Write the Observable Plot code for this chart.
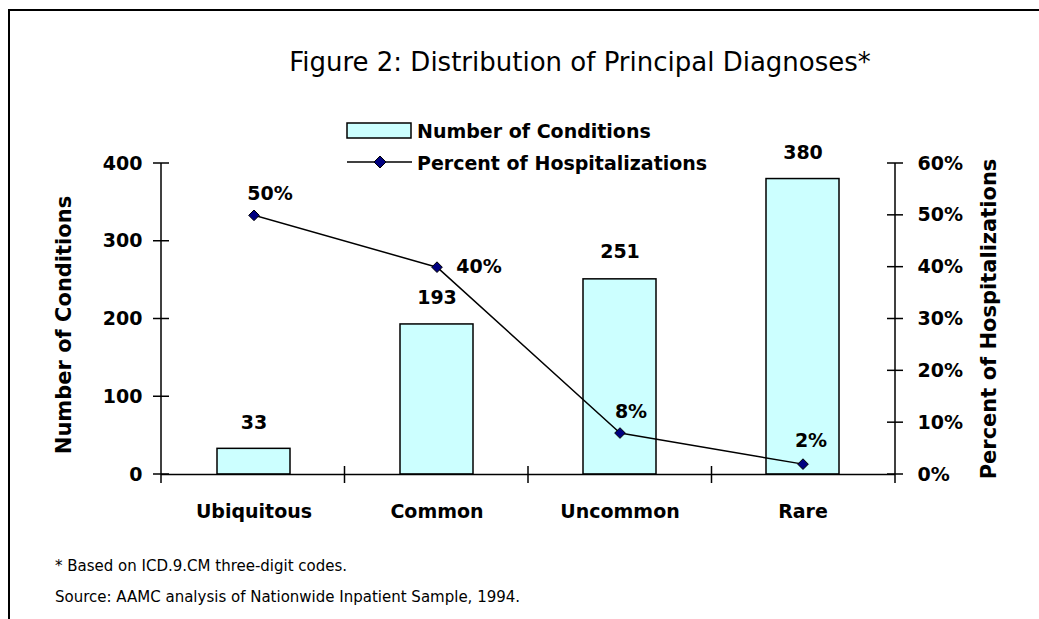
<!DOCTYPE html>
<html>
<head>
<meta charset="utf-8">
<script src="https://cdn.jsdelivr.net/npm/d3@7"></script>
<script src="https://cdn.jsdelivr.net/npm/@observablehq/plot@0.6"></script>
<style>
  html, body { margin: 0; padding: 0; background: #fff; }
  #wrap { position: relative; width: 1039px; height: 619px; overflow: hidden; background: #fff; font-family: "DejaVu Sans", sans-serif; color: #000; }
  #frame { position: absolute; left: 8px; top: 9px; width: 1200px; height: 800px; border: 2px solid #000; box-sizing: border-box; }
  #chart { position: absolute; left: 0; top: 0; }
  .abs { position: absolute; white-space: nowrap; line-height: 1; }
  #title { left: 580px; top: 62px; transform: translate(-50%, -50%); font-size: 26px; }
  .leg { font-size: 19px; font-weight: bold; transform: translateY(-50%); }
  .note { font-size: 15px; left: 55px; transform: translateY(-50%); }
</style>
</head>
<body>
<div id="wrap">
  <div id="frame"></div>
  <div id="chart"></div>
  <div id="title" class="abs">Figure 2: Distribution of Principal Diagnoses*</div>
  <svg class="abs" style="left:0;top:0" width="1039" height="200" id="legsw">
    <rect x="347" y="123" width="64" height="15" fill="#ccffff" stroke="#000" stroke-width="1.5"></rect>
    <line x1="347" x2="412" y1="162" y2="162" stroke="#000" stroke-width="1.5"></line>
    <path d="M380,156 L386,162 L380,168 L374,162 Z" fill="#000080" stroke="#000" stroke-width="1"></path>
  </svg>
  <div class="abs leg" style="left:417px;top:131px">Number of Conditions</div>
  <div class="abs leg" style="left:417px;top:163px">Percent of Hospitalizations</div>
  <div class="abs note" style="top:566px">* Based on ICD.9.CM three-digit codes.</div>
  <div class="abs note" style="top:597px">Source: AAMC analysis of Nationwide Inpatient Sample, 1994.</div>
</div>
<script>
// ---- data ----
const categories = ["Ubiquitous", "Common", "Uncommon", "Rare"];
const conditionCounts = [33, 193, 251, 380];
const hospitalizationPct = [50, 40, 8, 2];
const countTicks = [0, 100, 200, 300, 400];
const pctTicks = [0, 10, 20, 30, 40, 50, 60];

// ---- layout (not data) ----
const countMax = 400, pctMax = 60;
const k = countMax / pctMax; // maps percent onto the count scale
const countLabelDy = [-26, -27, -27, -26];
const pctLabelOffset = [[16, -21], [42, 0], [11, -21], [8, -23]];

const rows = categories.map((c, i) => ({cat: c, count: conditionCounts[i], pct: hospitalizationPct[i]}));

function crossTicks(index, scales, values, dims) {
  const L = dims.marginLeft, R = dims.width - dims.marginRight;
  const T = dims.marginTop, B = dims.height - dims.marginBottom;
  const ys = typeof scales.y === "function" ? scales.y : d3.scaleLinear([0, countMax], [B, T]);
  const bw = (R - L) / categories.length;
  const g = d3.create("svg:g").attr("stroke", "#000").attr("stroke-width", 1.5).attr("fill", "none");
  g.append("line").attr("x1", L).attr("x2", L).attr("y1", T).attr("y2", B + 9);
  g.append("line").attr("x1", R).attr("x2", R).attr("y1", T).attr("y2", B + 9);
  for (const v of countTicks) {
    const y = ys(v);
    g.append("line").attr("x1", L - 8).attr("x2", L + 8).attr("y1", y).attr("y2", y);
  }
  for (const p of pctTicks) {
    const y = ys(p * k);
    g.append("line").attr("x1", R - 8).attr("x2", R + 8).attr("y1", y).attr("y2", y);
  }
  for (let i = 1; i < categories.length; i++) {
    const x = L + i * bw;
    g.append("line").attr("x1", x).attr("x2", x).attr("y1", B - 8).attr("y2", B + 9);
  }
  return g.node();
}

const marks = [
  Plot.barY(rows, {x: "cat", y: "count", fill: "#ccffff", stroke: "#000", strokeWidth: 1.5, insetLeft: 55, insetRight: 55}),
  Plot.ruleY([0], {stroke: "#000", strokeWidth: 1.5}),
  crossTicks,
  Plot.axisY({anchor: "left", ticks: countTicks, tickSize: 0, tickPadding: 19, label: null, tickFormat: d => String(d)}),
  Plot.axisY({anchor: "right", ticks: pctTicks.map(p => p * k), tickSize: 0, tickPadding: 22, label: null,
    tickFormat: v => Math.round(v / k) + "%"}),
  Plot.axisX({anchor: "bottom", tickSize: 0, tickPadding: 30, label: null}),
  Plot.text(["Number of Conditions"], {frameAnchor: "left", textAnchor: "middle", dx: -97, dy: 6, rotate: -90, fontSize: 21}),
  Plot.text(["Percent of Hospitalizations"], {frameAnchor: "right", textAnchor: "middle", dx: 94, rotate: -90, fontSize: 21}),
  Plot.lineY(rows, {x: "cat", y: d => d.pct * k, stroke: "#000", strokeWidth: 1.5}),
  Plot.dot(rows, {x: "cat", y: d => d.pct * k, symbol: "diamond2", r: 4.8, fill: "#000080", stroke: "#000", strokeWidth: 1})
];
rows.forEach((d, i) => {
  marks.push(Plot.text([d], {x: "cat", y: "count", text: r => String(r.count), dy: countLabelDy[i]}));
  marks.push(Plot.text([d], {x: "cat", y: r => r.pct * k, text: r => r.pct + "%", dx: pctLabelOffset[i][0], dy: pctLabelOffset[i][1]}));
});

const chart = Plot.plot({
  width: 1039,
  height: 619,
  marginLeft: 161,
  marginRight: 144,
  marginTop: 163,
  marginBottom: 145,
  style: {fontFamily: "DejaVu Sans", fontSize: "19px", fontWeight: "bold", color: "#000", background: "transparent", overflow: "visible"},
  x: {domain: categories, padding: 0},
  y: {domain: [0, countMax]},
  marks
});
document.getElementById("chart").appendChild(chart);
</script>
</body>
</html>
